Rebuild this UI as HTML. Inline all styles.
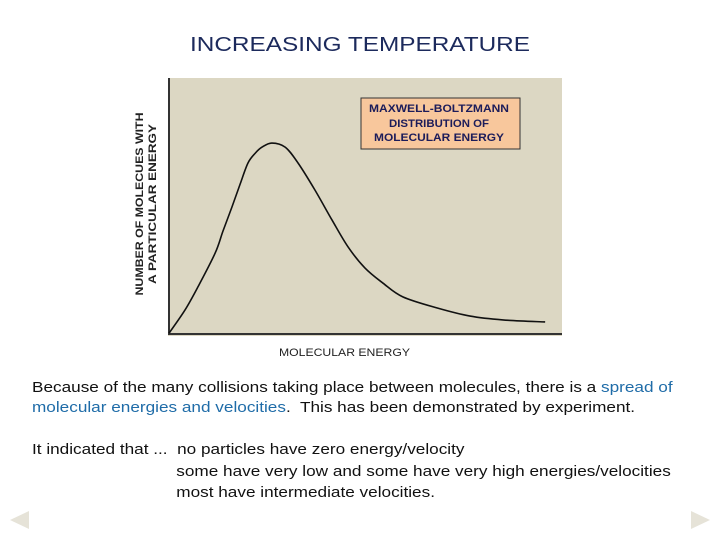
<!DOCTYPE html>
<html><head><meta charset="utf-8"><style>
body{margin:0;width:720px;height:540px;background:#fff;font-family:"Liberation Sans",sans-serif;position:relative;overflow:hidden}
.t{position:absolute;white-space:nowrap}
</style></head><body>
<svg width="720" height="60" style="position:absolute;left:0;top:0">
<text x="190" y="51" font-size="20" fill="#1c2a5c" textLength="340" lengthAdjust="spacingAndGlyphs">INCREASING TEMPERATURE</text></svg>
<svg id="chart" width="720" height="370" style="position:absolute;left:0;top:0">
<rect x="168" y="78" width="394" height="258" fill="#dcd7c3"/>
<line x1="169" y1="78" x2="169" y2="335" stroke="#333" stroke-width="2"/>
<line x1="168" y1="334" x2="562" y2="334" stroke="#333" stroke-width="2"/>
<g transform="translate(143,204) rotate(-90)" font-size="11" font-weight="bold" fill="#222" text-anchor="middle">
<text x="0" y="0" textLength="183" lengthAdjust="spacingAndGlyphs">NUMBER OF MOLECUES WITH</text><text x="0" y="13" textLength="160" lengthAdjust="spacingAndGlyphs">A PARTICULAR ENERGY</text></g>
<text x="279" y="356" font-size="11" fill="#222" textLength="131" lengthAdjust="spacingAndGlyphs">MOLECULAR ENERGY</text>
<rect x="361" y="98" width="159" height="51" fill="#f8c79c" stroke="#333" stroke-width="1"/>
<g font-size="11" font-weight="bold" fill="#1c1c5a" text-anchor="middle">
<text x="439" y="112" textLength="140" lengthAdjust="spacingAndGlyphs">MAXWELL-BOLTZMANN</text><text x="439" y="127" textLength="100" lengthAdjust="spacingAndGlyphs">DISTRIBUTION OF</text><text x="439" y="141" textLength="130" lengthAdjust="spacingAndGlyphs">MOLECULAR ENERGY</text></g>
</svg>
<script>
const energy=[0,0.41,0.74,1.18,1.38,1.61,1.82,2.02,2.21,2.38,2.63,2.97,3.30,3.73,4.17,4.58,5.01,5.47,5.98,6.85,7.70,8.54,9.62];
const count=[0.3,9.4,18.4,31.6,40.2,49.6,58.6,66.8,70.7,73.0,74.6,73.0,66.8,56.3,44.5,34.0,25.8,19.9,14.5,10.2,7.0,5.5,4.7];
const xs=e=>169+e*39.1, ys=c=>334-c*2.56;
const svg=document.getElementById('chart');
let d='M'+xs(energy[0])+','+ys(count[0]);
for(let i=0;i<energy.length-1;i++){
 const p0=i>0?i-1:i,p3=i+2<energy.length?i+2:i+1;
 const x0=xs(energy[p0]),y0=ys(count[p0]),x1=xs(energy[i]),y1=ys(count[i]),x2=xs(energy[i+1]),y2=ys(count[i+1]),x3=xs(energy[p3]),y3=ys(count[p3]);
 d+=` C${x1+(x2-x0)/6},${y1+(y2-y0)/6} ${x2-(x3-x1)/6},${y2-(y3-y1)/6} ${x2},${y2}`;
}
const path=document.createElementNS('http://www.w3.org/2000/svg','path');
path.setAttribute('d',d);path.setAttribute('fill','none');path.setAttribute('stroke','#111');path.setAttribute('stroke-width','1.6');


svg.appendChild(path);
</script>
<div style="position:absolute;left:32px;top:378px;font-size:15px;line-height:20px;color:#111;transform:scaleX(1.145);transform-origin:0 0;white-space:nowrap">Because of the many collisions taking place between molecules, there is a <span style="color:#1f6ca8">spread of<br>molecular energies and velocities</span>.&nbsp; This has been demonstrated by experiment.</div>
<div style="position:absolute;left:32px;top:439px;font-size:15px;line-height:21.5px;color:#111;transform:scaleX(1.145);transform-origin:0 0;white-space:nowrap">It indicated that ...&nbsp; no particles have zero energy/velocity<br><span style="padding-left:126px">some have very low and some have very high energies/velocities</span><br><span style="padding-left:126px">most have intermediate velocities.</span></div>
<svg style="position:absolute;left:8px;top:510px" width="22" height="20"><polygon points="21,1 21,19 2,10" fill="#e6e3d8"/></svg>
<svg style="position:absolute;left:690px;top:510px" width="22" height="20"><polygon points="1,1 1,19 20,10" fill="#e6e3d8"/></svg>
</body></html>
